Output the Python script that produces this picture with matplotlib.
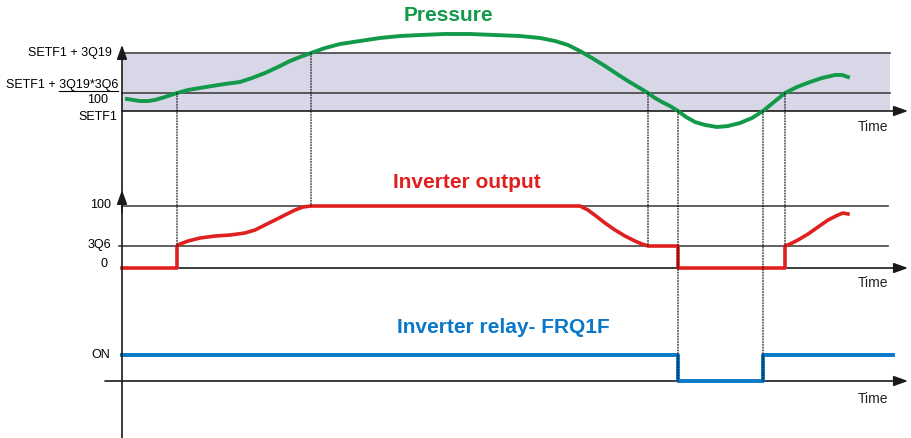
import matplotlib
matplotlib.use('Agg')
import matplotlib.pyplot as plt
from matplotlib.lines import Line2D
from matplotlib.patches import ConnectionPatch

plt.rcParams['font.family'] = ['Liberation Sans', 'DejaVu Sans']

##########################################
## Data            ##
##########################################

# pressure, in units of 3Q19 above SETF1
press_hi = 1.0      # SETF1 + 3Q19
press_mid = 0.31    # SETF1 + 3Q19*3Q6/100
press_lo = 0.0      # SETF1
press_t = [5, 11, 18, 26, 33, 43, 55, 66, 78, 90, 103, 118, 130, 143, 156, 168,
           178, 189, 203, 218, 238, 258, 278, 298, 323, 348, 373, 398, 418, 433,
           446, 458, 470, 483, 495, 506, 516, 526, 533, 540, 548, 556, 564, 573,
           583, 595, 606, 618, 630, 641, 652, 663, 675, 688, 700, 713, 720, 726]
press_v = [0.207, 0.19, 0.172, 0.172, 0.19, 0.241, 0.31, 0.362, 0.397, 0.431,
           0.466, 0.5, 0.569, 0.655, 0.759, 0.862, 0.931, 1.0, 1.086, 1.155, 1.207,
           1.259, 1.293, 1.31, 1.328, 1.328, 1.31, 1.293, 1.259, 1.207, 1.138,
           1.034, 0.914, 0.776, 0.638, 0.517, 0.414, 0.31, 0.224, 0.155, 0.086,
           0.0, -0.103, -0.19, -0.241, -0.276, -0.259, -0.207, -0.121, 0.0, 0.155,
           0.31, 0.414, 0.5, 0.569, 0.621, 0.621, 0.586]

# inverter output in %
out_max = 100
out_3q6 = 35.5
out_t = [0, 55, 55, 58, 66, 78, 93, 108, 123, 133, 143, 153, 163, 173, 181, 189,
         458, 466, 474, 483, 493, 503, 513, 520, 526, 556, 556, 663, 663, 668, 676,
         686, 696, 706, 716, 721, 726]
out_v = [0, 0, 35.5, 38.7, 43.5, 48.4, 51.6, 53.2, 56.5, 61.3, 69.4, 77.4, 85.5,
         93.5, 98.4, 100, 100, 93.5, 83.9, 72.6, 61.3, 51.6, 43.5, 38.7, 35.5, 35.5,
         0, 0, 35.5, 38.7, 45.2, 54.8, 66.1, 77.4, 85.5, 88.7, 87.1]

# inverter relay FRQ1F (1 = ON)
relay_t = [0, 556, 556, 641, 641, 771]
relay_v = [1, 1, 0, 0, 1, 1]

# switching instants: (time, pressure level, level in lower panel, lower panel)
links = [(55, press_mid, out_3q6, 'out'),
         (189, press_hi, out_max, 'out'),
         (526, press_mid, out_3q6, 'out'),
         (556, press_lo, 0, 'relay'),
         (641, press_lo, 0, 'relay'),
         (663, press_mid, out_3q6, 'out')]

##########################################
## Figure                               ##
##########################################

green = '#12994a'
red = '#e0201f'
blue = '#0a78c8'
grey = '#444444'
band = '#d7d7e7'

fig = plt.figure(figsize=(9.11, 4.38), dpi=100)
ax1 = fig.add_axes([0, 278/438, 1, 160/438])
ax2 = fig.add_axes([0, 128/438, 1, 150/438])
ax3 = fig.add_axes([0, 0, 1, 128/438])
for ax in (ax1, ax2, ax3):
    ax.set_xlim(-122, 789)
    ax.axis('off')
ax1.set_ylim(-0.845, 1.914)
ax2.set_ylim(-67.7, 174.2)
ax3.set_ylim(-2.192, 2.731)

arrow = dict(arrowstyle='-|>,head_length=0.5,head_width=0.18', color='#1a1a1a',
             lw=1.2, mutation_scale=17, shrinkA=0, shrinkB=0)

# vertical axis running through all three panels
fig.add_artist(Line2D([122/911, 122/911], [0, 380/438], color='#1a1a1a', lw=1.2))
ax1.annotate('', xy=(0, 1.14), xytext=(0, 0.9), arrowprops=arrow, annotation_clip=False)
ax2.annotate('', xy=(0, 126), xytext=(0, 90), arrowprops=arrow, annotation_clip=False)

# pressure panel
ax1.fill_between([0, 768], press_lo, press_hi, color=band, lw=0)
for lvl in (press_hi, press_mid):
    ax1.plot([0, 768], [lvl, lvl], color=grey, lw=1.2)
ax1.annotate('', xy=(786, press_lo), xytext=(0, press_lo), arrowprops=arrow)
ax1.plot(press_t, press_v, color=green, lw=2.8, solid_joinstyle='round', zorder=5)

ax1.text(-10, press_hi, 'SETF1 + 3Q19', ha='right', va='center', fontsize=9)
ax1.text(-4, 0.448, 'SETF1 + 3Q19*3Q6', ha='right', va='center', fontsize=9)
ax1.plot([-63, -4], [0.345, 0.345], color='black', lw=0.8, clip_on=False)
ax1.text(-24, 0.19, '100', ha='center', va='center', fontsize=9)
ax1.text(-5, -0.103, 'SETF1', ha='right', va='center', fontsize=9)
ax1.text(736, -0.276, 'Time', ha='left', va='center', fontsize=10, color='#222222')
ax1.text(326, 1.655, 'Pressure', ha='center', va='center', fontsize=15,
         fontweight='bold', color=green)

# inverter output panel
ax2.plot([0, 766], [out_max, out_max], color=grey, lw=1.2)
ax2.plot([-3, 766], [out_3q6, out_3q6], color=grey, lw=1.2)
ax2.annotate('', xy=(786, 0), xytext=(0, 0), arrowprops=arrow)
ax2.plot(out_t, out_v, color=red, lw=2.6, solid_joinstyle='round', zorder=5)

ax2.text(-11, 102, '100', ha='right', va='center', fontsize=9)
ax2.text(-11, 37, '3Q6', ha='right', va='center', fontsize=9)
ax2.text(-14, 6, '0', ha='right', va='center', fontsize=9)
ax2.text(736, -24.2, 'Time', ha='left', va='center', fontsize=10, color='#222222')
ax2.text(345, 138.7, 'Inverter output', ha='center', va='center', fontsize=15,
         fontweight='bold', color=red)

# relay panel
ax3.annotate('', xy=(786, 0), xytext=(-17, 0), arrowprops=arrow)
ax3.plot(relay_t, relay_v, color=blue, lw=2.8, zorder=5)

ax3.text(-12, 1.0, 'ON', ha='right', va='center', fontsize=9)
ax3.text(736, -0.69, 'Time', ha='left', va='center', fontsize=10, color='#222222')
ax3.text(381, 2.04, 'Inverter relay- FRQ1F', ha='center', va='center', fontsize=15,
         fontweight='bold', color=blue)

# dotted guides from the pressure thresholds to the switching points
for t, p, lvl, panel in links:
    target = ax2 if panel == 'out' else ax3
    con = ConnectionPatch(xyA=(t, p), coordsA=ax1.transData,
                          xyB=(t, lvl), coordsB=target.transData,
                          linestyle=(0, (1, 1.5)), color='black', lw=0.8, zorder=1)
    fig.add_artist(con)

fig.savefig('out.png', dpi=100)
